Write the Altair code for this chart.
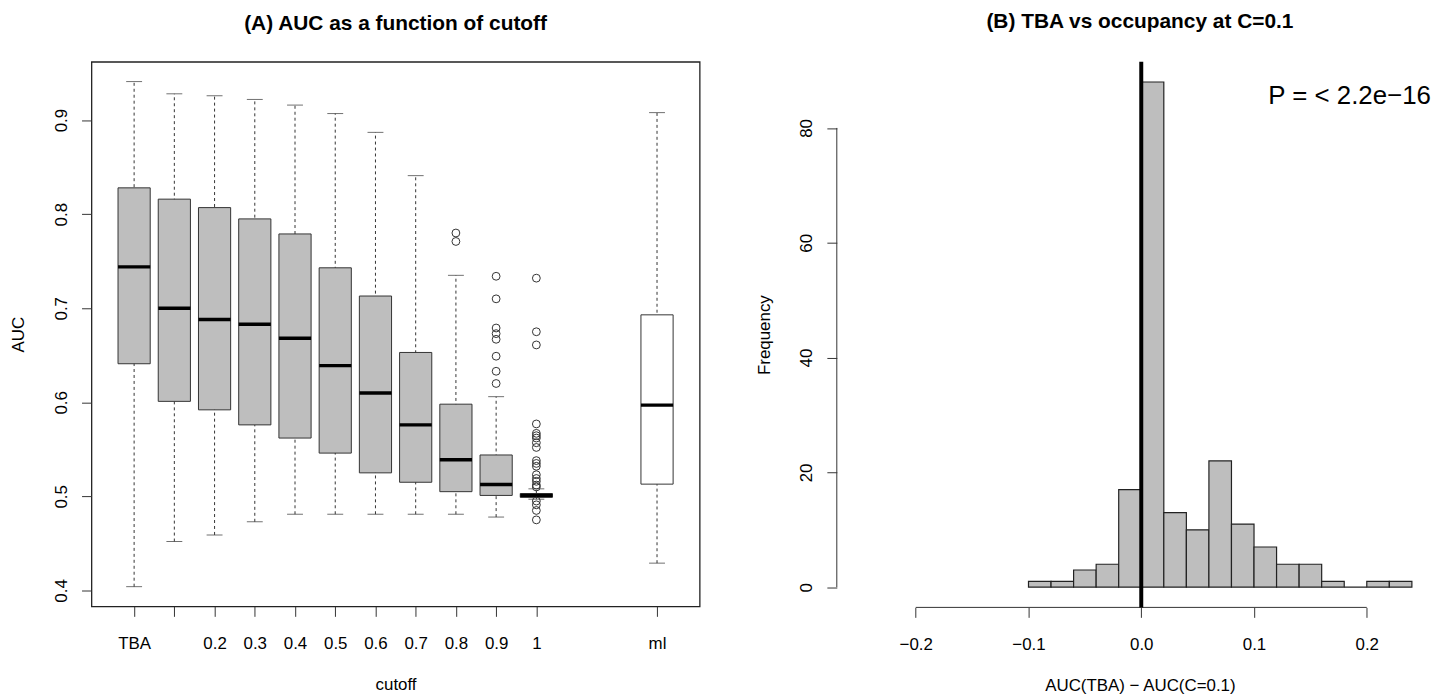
import altair as alt
import pandas as pd

FONT = "Liberation Sans"

# ---------------- Panel A: AUC as a function of cutoff ----------------
positions = [1, 2, 3, 4, 5, 6, 7, 8, 9, 10, 11, 14]
tick_labels = ["TBA", "", "0.2", "0.3", "0.4", "0.5", "0.6", "0.7", "0.8", "0.9", "1", "ml"]
whisker_low = [0.404, 0.452, 0.459, 0.473, 0.481, 0.481, 0.481, 0.481, 0.481, 0.478, 0.497, 0.429]
q1 = [0.641, 0.601, 0.592, 0.576, 0.562, 0.546, 0.525, 0.515, 0.505, 0.501, 0.499, 0.513]
median = [0.744, 0.700, 0.688, 0.683, 0.668, 0.639, 0.610, 0.576, 0.539, 0.5125, 0.501, 0.597]
q3 = [0.828, 0.816, 0.807, 0.795, 0.779, 0.743, 0.713, 0.653, 0.598, 0.544, 0.503, 0.693]
whisker_high = [0.941, 0.928, 0.926, 0.922, 0.916, 0.907, 0.887, 0.841, 0.735, 0.606, 0.508, 0.908]
box_fill = ["#bebebe"] * 11 + ["#ffffff"]

outliers_08 = [0.780, 0.771]
outliers_09 = [0.734, 0.710, 0.679, 0.673, 0.667, 0.649, 0.633, 0.620]
outliers_1 = [0.732, 0.675, 0.661, 0.577, 0.567, 0.5645, 0.562, 0.557, 0.552, 0.538,
              0.535, 0.532, 0.523, 0.519, 0.516, 0.512, 0.510, 0.495, 0.491, 0.485, 0.475]

y_ticks_a = [0.4, 0.5, 0.6, 0.7, 0.8, 0.9]

# ---------------- Panel B: histogram ----------------
bin_start = [-0.10, -0.08, -0.06, -0.04, -0.02, 0.00, 0.02, 0.04, 0.06, 0.08,
             0.10, 0.12, 0.14, 0.16, 0.18, 0.20, 0.22]
bin_end = [-0.08, -0.06, -0.04, -0.02, 0.00, 0.02, 0.04, 0.06, 0.08, 0.10,
           0.12, 0.14, 0.16, 0.18, 0.20, 0.22, 0.24]
counts = [1, 1, 3, 4, 17, 88, 13, 10, 22, 11, 7, 4, 4, 1, 0, 1, 1]
x_ticks_b = [-0.2, -0.1, 0.0, 0.1, 0.2]
y_ticks_b = [0, 20, 40, 60, 80]
p_text = "P = < 2.2e\u221216"

# ---------------- build tables ----------------
boxes = pd.DataFrame({
    "pos": positions, "label": tick_labels, "lo": whisker_low, "q1": q1,
    "med": median, "q3": q3, "hi": whisker_high, "fill": box_fill,
})
outliers = pd.DataFrame({
    "pos": [9] * len(outliers_08) + [10] * len(outliers_09) + [11] * len(outliers_1),
    "auc": outliers_08 + outliers_09 + outliers_1,
})
hist = pd.DataFrame({"start": bin_start, "end": bin_end, "count": counts})

WA, HA = 612, 548
WB, HB = 610, 549
DARK = "#333333"

lab_arr = [""] * 16
for p, l in zip(positions, tick_labels):
    lab_arr[p] = l
label_expr = "[" + ",".join("'%s'" % s for s in lab_arr) + "][datum.value]"

xA = alt.Scale(domain=[-0.06, 15.06], nice=False, zero=False)
yA = alt.Scale(domain=[0.383, 0.962], nice=False, zero=False)

axXA = alt.Axis(values=positions, labelExpr=label_expr, title="cutoff", domain=False,
                grid=False, tickSize=10, tickColor=DARK, labelPadding=19,
                labelOverlap=False, labelFlush=False, titlePadding=26)
axYA = alt.Axis(values=y_ticks_a, format=".1f", title="AUC", domain=False, grid=False,
                tickSize=10, tickColor=DARK, labelAngle=270, labelAlign="center",
                labelBaseline="alphabetic", labelPadding=15, titlePadding=25)


def XA(f):
    return alt.X(f, type="quantitative", scale=xA, axis=axXA)


def YA(f):
    return alt.Y(f, type="quantitative", scale=yA, axis=axYA)


baseA = alt.Chart(boxes).transform_calculate(x1="datum.pos - 0.4", x2="datum.pos + 0.4")

whisk = baseA.mark_rule(color=DARK, strokeWidth=1, strokeDash=[3, 3]).encode(
    x=XA("pos"), y=YA("lo"), y2="hi")
cap_lo = baseA.mark_tick(orient="horizontal", size=16, thickness=1, color=DARK).encode(
    x=XA("pos"), y=YA("lo"))
cap_hi = baseA.mark_tick(orient="horizontal", size=16, thickness=1, color=DARK).encode(
    x=XA("pos"), y=YA("hi"))
box = baseA.mark_rect(stroke=DARK, strokeWidth=1).encode(
    x=XA("x1"), x2="x2", y=YA("q1"), y2="q3", fill=alt.Fill("fill:N", scale=None))
med = baseA.mark_rule(color="black", strokeWidth=3.5).encode(
    x=XA("x1"), x2="x2", y=YA("med"))
outs = alt.Chart(outliers).mark_point(shape="circle", size=62, filled=False,
                                       color=DARK, strokeWidth=1, opacity=1).encode(
    x=XA("pos"), y=YA("auc"))

panelA = alt.layer(whisk, cap_lo, cap_hi, box, med, outs).properties(
    width=WA, height=HA,
    title=alt.Title("(A) AUC as a function of cutoff", fontSize=21, font=FONT,
                    fontWeight="bold", anchor="middle", offset=28),
    view=alt.ViewBackground(stroke="#222222", strokeWidth=1.3),
)

# ---------------- Panel B ----------------
xB = alt.Scale(domain=[-0.27, 0.2676], nice=False, zero=False)
yB = alt.Scale(domain=[-3.52, 91.52], nice=False, zero=False)

axXB = alt.Axis(values=x_ticks_b, format=".1f", title="AUC(TBA) \u2212 AUC(C=0.1)",
                domain=False, grid=False, tickSize=10, tickColor=DARK, labelPadding=19,
                labelOverlap=False, labelFlush=False, titlePadding=26)
axYB = alt.Axis(values=y_ticks_b, format="d", title="Frequency", domain=False, grid=False,
                tickSize=10, tickColor=DARK, labelAngle=270, labelAlign="center",
                labelBaseline="alphabetic", labelPadding=15, titlePadding=25)

bars = alt.Chart(hist).mark_rect(fill="#bebebe", stroke="#222222", strokeWidth=1.2).encode(
    x=alt.X("start:Q", scale=xB, axis=axXB), x2="end",
    y=alt.Y("count:Q", scale=yB, axis=axYB), y2=alt.datum(0))

axis_df_x = pd.DataFrame({"a": [min(x_ticks_b)], "b": [max(x_ticks_b)]})
axis_df_y = pd.DataFrame({"a": [min(y_ticks_b)], "b": [max(y_ticks_b)]})

xline = alt.Chart(axis_df_x).mark_rule(color=DARK, strokeWidth=1).encode(
    x=alt.X("a:Q", scale=xB, axis=axXB), x2="b", y=alt.value(HB))
yline = alt.Chart(axis_df_y).mark_rule(color=DARK, strokeWidth=1).encode(
    y=alt.Y("a:Q", scale=yB, axis=axYB), y2="b", x=alt.value(0))

zero_df = pd.DataFrame({"z": [0.0]})
vline = alt.Chart(zero_df).mark_rule(color="black", strokeWidth=4).encode(
    x=alt.X("z:Q", scale=xB, axis=axXB), y=alt.value(0), y2=alt.value(HB))

ptxt = alt.Chart(zero_df).mark_text(text=p_text, fontSize=26, font=FONT, align="center",
                                    baseline="middle", color="black").encode(
    x=alt.value(516), y=alt.value(34))

panelB = alt.layer(bars, xline, yline, vline, ptxt).properties(
    width=WB, height=HB,
    title=alt.Title("(B) TBA vs occupancy at C=0.1", fontSize=21, font=FONT,
                    fontWeight="bold", anchor="middle", offset=28),
)

chart = alt.hconcat(panelA, panelB, spacing=54).properties(
    padding={"left": 1, "top": 0, "right": 0, "bottom": 0},
    background="white",
).configure_view(stroke="transparent").configure_axis(
    labelFont=FONT, labelFontSize=17, labelColor="black",
    titleFont=FONT, titleFontSize=17, titleFontWeight="normal", titleColor="black",
).configure_title(color="black")

chart.save("out.html", embed_options={"renderer": "svg", "actions": False})
